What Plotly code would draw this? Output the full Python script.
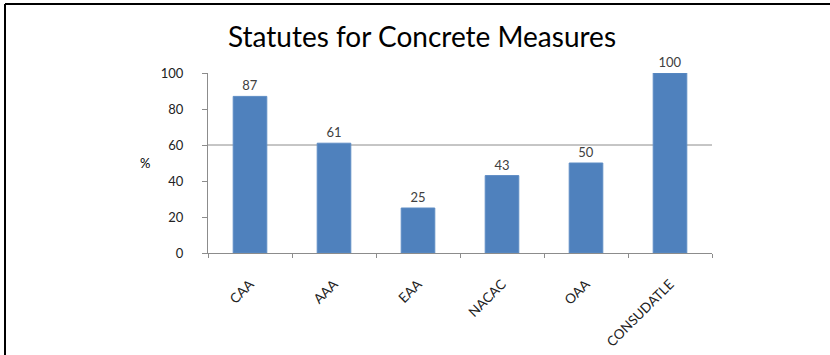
import plotly.graph_objects as go

# Chart data
categories = ["CAA", "AAA", "EAA", "NACAC", "OAA", "CONSUDATLE"]
percentages = [87, 61, 25, 43, 50, 100]
y_ticks = [0, 20, 40, 60, 80, 100]

W, H = 830, 355
L, R, T, B = 208, 118, 73, 102
plot_w = W - L - R
plot_h = H - T - B

FONT = "Lato, Open Sans, sans-serif"


def px_x(x):
    return (x - L) / plot_w


def px_y(y):
    return (H - B - y) / plot_h


fig = go.Figure(
    go.Bar(
        x=categories,
        y=percentages,
        marker=dict(color="#4F81BD", line=dict(color="#5D8CC4", width=1)),
        text=[str(v) for v in percentages],
        textposition="outside",
        textfont=dict(family=FONT, size=13, color="#404040"),
        cliponaxis=False,
        width=0.4,
    )
)

fig.update_layout(
    width=W,
    height=H,
    margin=dict(l=L, r=R, t=T, b=B),
    paper_bgcolor="white",
    plot_bgcolor="white",
    showlegend=False,
    title=dict(
        text="Statutes for Concrete Measures",
        x=422 / W,
        xanchor="center",
        y=1 - 37 / H,
        yanchor="middle",
        font=dict(family=FONT, size=28, color="#000000"),
    ),
    xaxis=dict(
        automargin=False,
        showgrid=False,
        showline=True,
        linecolor="#8C8C8C",
        linewidth=1,
        ticks="outside",
        tickson="boundaries",
        ticklen=4,
        tickcolor="#8C8C8C",
        tickangle=-45,
        ticklabelstandoff=17,
        tickfont=dict(family=FONT, size=13.5, color="#222222"),
    ),
    yaxis=dict(
        automargin=False,
        range=[0, 100],
        tickvals=y_ticks,
        showgrid=False,
        zeroline=False,
        showline=True,
        linecolor="#8C8C8C",
        linewidth=1,
        ticks="outside",
        ticklen=5,
        tickcolor="#8C8C8C",
        ticklabelstandoff=16,
        tickfont=dict(family=FONT, size=13, color="#222222"),
    ),
    shapes=[
        # reference line at 60 %
        dict(type="line", xref="paper", yref="y", x0=0, x1=1, y0=60, y1=60,
             line=dict(color="#8C8C8C", width=1), layer="below"),
        # frame: top and left borders
        dict(type="line", xref="paper", yref="paper",
             x0=px_x(5), x1=px_x(W + 5), y0=px_y(4), y1=px_y(4),
             line=dict(color="black", width=2)),
        dict(type="line", xref="paper", yref="paper",
             x0=px_x(5), x1=px_x(5), y0=px_y(4), y1=px_y(H + 5),
             line=dict(color="black", width=2)),
    ],
    annotations=[
        dict(text="%", xref="paper", yref="paper", x=px_x(145), y=px_y(163),
             showarrow=False, xanchor="center", yanchor="middle",
             font=dict(family=FONT, size=13, color="#000000")),
    ],
)

fig.write_html("out.html")
